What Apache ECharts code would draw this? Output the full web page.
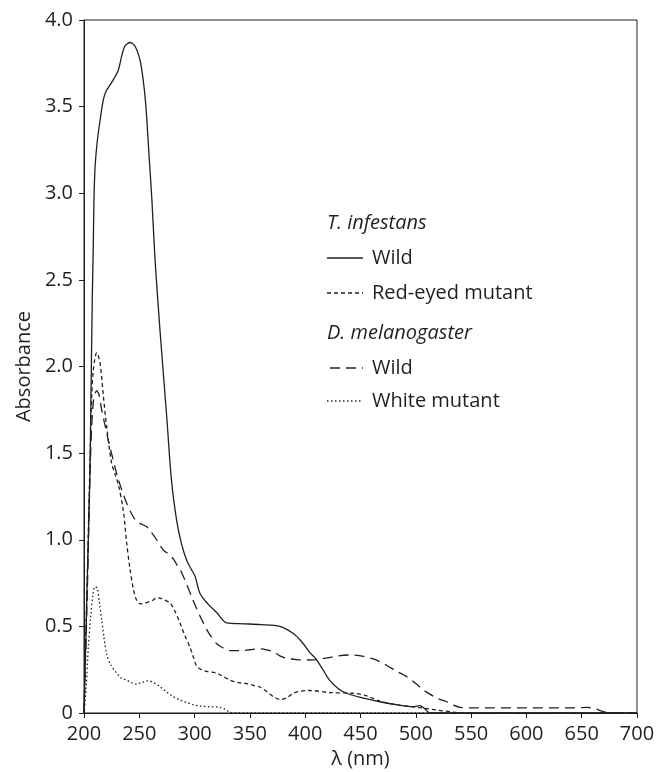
<!DOCTYPE html>
<html>
<head>
<meta charset="utf-8">
<script src="https://cdn.jsdelivr.net/npm/echarts@6/dist/echarts.min.js"></script>
<style>
  html, body { margin: 0; padding: 0; background: #fff; }
  #box1 { width: 658px; height: 772px; }
</style>
</head>
<body>
<div id="box1"></div>
<script>
// 数据 [λ(nm), absorbance]
var tWild = [[200,0],[202.7,0.7],[205.4,1.4],[206.3,1.83],[207.5,2.4],[208.4,2.7],[209,2.96],[210,3.15],[212,3.3],[214.5,3.42],[217.5,3.54],[220,3.59],[222,3.61],[226,3.65],[231,3.71],[234,3.79],[237,3.85],[241.6,3.87],[246,3.85],[250.6,3.77],[253.6,3.65],[256,3.5],[258.5,3.25],[261.5,2.95],[264.2,2.62],[268.7,2.21],[274.8,1.71],[279,1.35],[283.8,1.11],[288,0.98],[292.9,0.88],[297,0.83],[300.4,0.79],[304.9,0.69],[312,0.63],[320,0.58],[329,0.52],[345,0.515],[360,0.51],[377,0.5],[389,0.46],[397,0.41],[404,0.35],[410,0.31],[416,0.25],[422,0.19],[430,0.14],[437.5,0.114],[450,0.09],[467.6,0.065],[485,0.045],[497.7,0.036],[503.8,0.042],[508,0.025],[512.8,0],[700,0]]

var tRedEye = [[200,0],[203,0.8],[206,1.6],[207,1.83],[208.4,1.98],[211.5,2.08],[214.5,2.02],[217.5,1.83],[220.5,1.65],[225,1.44],[228,1.38],[231,1.32],[235.5,1.17],[238.6,0.98],[241.6,0.83],[244.5,0.72],[247.6,0.65],[251,0.63],[255.2,0.635],[262,0.65],[266,0.665],[270,0.66],[277.8,0.635],[282,0.59],[286.8,0.52],[291,0.45],[295.8,0.38],[299,0.32],[301.9,0.27],[306,0.25],[310.9,0.24],[320,0.23],[326,0.21],[332,0.19],[340,0.175],[347.1,0.17],[353,0.16],[359.1,0.15],[365,0.125],[371.2,0.094],[378,0.078],[384,0.09],[389.2,0.114],[395,0.125],[404.3,0.13],[422,0.118],[443,0.114],[455,0.1],[467.6,0.068],[485,0.045],[497.7,0.036],[505,0.03],[518.9,0.017],[534,0.005],[540,0],[700,0]]

var dWild = [[200,0],[203,0.7],[206,1.5],[208.5,1.8],[211.5,1.86],[213.5,1.84],[216,1.75],[219,1.66],[222,1.575],[226,1.47],[229.6,1.38],[234,1.29],[238.6,1.21],[243,1.15],[247.6,1.105],[252,1.09],[256.7,1.075],[260,1.05],[265.7,1.0],[271.7,0.94],[276,0.92],[280.7,0.89],[284.5,0.85],[288.3,0.81],[293,0.74],[297.4,0.67],[302,0.6],[307.9,0.52],[313,0.46],[320,0.4],[326,0.375],[332,0.36],[341,0.36],[350,0.365],[359,0.37],[365,0.365],[371.2,0.354],[377,0.33],[383.3,0.316],[392,0.308],[401.4,0.306],[410,0.308],[420,0.318],[430,0.33],[440.5,0.335],[450,0.33],[460,0.315],[467.6,0.296],[475,0.27],[483,0.24],[491.8,0.21],[500,0.17],[506.8,0.133],[515,0.1],[521,0.08],[527.9,0.065],[534,0.045],[540,0.033],[550,0.03],[600,0.03],[640,0.03],[655,0.032],[662,0.025],[669.5,0.008],[675,0],[700,0]]

var dWhite = [[200,0],[202,0.15],[203.9,0.38],[206,0.55],[208,0.68],[210,0.73],[212,0.72],[214,0.63],[216,0.54],[218,0.44],[220.5,0.34],[224,0.28],[229.6,0.23],[234,0.2],[238.6,0.19],[243,0.175],[247.6,0.167],[252,0.175],[258.1,0.186],[263,0.175],[268.7,0.152],[274,0.125],[280.7,0.094],[287,0.075],[292.9,0.06],[299,0.048],[304.9,0.04],[315,0.036],[323,0.033],[328,0.02],[332,0.005],[336,0],[700,0]]

// 图例文字
var legendHead = ["T. infestans", "D. melanogaster"]
var legendItems = ["Wild", "Red-eyed mutant", "Wild", "White mutant"]

var ink = "#231f20"
var font = "Open Sans"
var fs = 20

var MyEcharts1 = echarts.init(document.getElementById("box1"))

function lineSeries(name, data, dash) {
    return {
        name: name,
        type: "line",
        data: data,
        showSymbol: false,
        smooth: 0.3,
        lineStyle: { color: ink, width: 1.3, type: dash },
        z: 3
    }
}

// 图例（用graphic画）
var lx1 = 327, lx2 = 363, tx = 372
function legendLine(y, dash, x1) {
    return {
        type: "line",
        shape: { x1: x1 || lx1, y1: y, x2: lx2, y2: y },
        style: { stroke: ink, lineWidth: 1.3, lineDash: dash }
    }
}
function legendText(x, y, text, italic) {
    return {
        type: "text",
        x: x, y: y,
        style: {
            text: text, fill: ink, font: (italic ? "italic " : "") + fs + "px '" + font + "'",
            verticalAlign: "middle"
        }
    }
}

var option1 = {
    animation: false,
    grid: {
        show: true,
        borderColor: ink,
        borderWidth: 1,
        left: 84, right: 21, top: 20, bottom: 59,
        outerBoundsMode: "none"
    },
    xAxis: {
        type: "value",
        min: 200, max: 700, interval: 50,
        name: "λ (nm)",
        nameLocation: "middle",
        nameGap: 32,
        nameTextStyle: { color: ink, fontSize: fs, fontFamily: font },
        axisLine: { show: true, lineStyle: { color: ink, width: 1 } },
        axisTick: { show: true, inside: false, length: 5, lineStyle: { color: ink } },
        axisLabel: { color: ink, fontSize: fs, fontFamily: font, margin: 11 },
        splitLine: { show: false }
    },
    yAxis: {
        type: "value",
        min: 0, max: 4, interval: 0.5,
        name: "Absorbance",
        nameLocation: "middle",
        nameGap: 50,
        nameTextStyle: { color: ink, fontSize: fs, fontFamily: font },
        axisLine: { show: true, lineStyle: { color: ink, width: 1 } },
        axisTick: { show: true, inside: false, length: 5, lineStyle: { color: ink } },
        axisLabel: {
            color: ink, fontSize: fs, fontFamily: font, margin: 11,
            formatter: function (v) { return v === 0 ? "0" : v.toFixed(1) }
        },
        splitLine: { show: false }
    },
    series: [
        lineSeries("T. infestans Wild", tWild, "solid"),
        lineSeries("T. infestans Red-eyed mutant", tRedEye, [4, 3]),
        lineSeries("D. melanogaster Wild", dWild, [10, 6]),
        lineSeries("D. melanogaster White mutant", dWhite, [1.5, 2.5])
    ],
    graphic: [
        legendText(lx1, 223, legendHead[0], true),
        legendLine(258, null),
        legendText(tx, 258, legendItems[0], false),
        legendLine(293, [4, 3]),
        legendText(tx, 293, legendItems[1], false),
        legendText(lx1, 333, legendHead[1], true),
        legendLine(368, [10, 6], 330),
        legendText(tx, 368, legendItems[2], false),
        legendLine(401, [1.5, 2.5]),
        legendText(tx, 401, legendItems[3], false)
    ]
}

MyEcharts1.setOption(option1)
</script>
</body>
</html>
